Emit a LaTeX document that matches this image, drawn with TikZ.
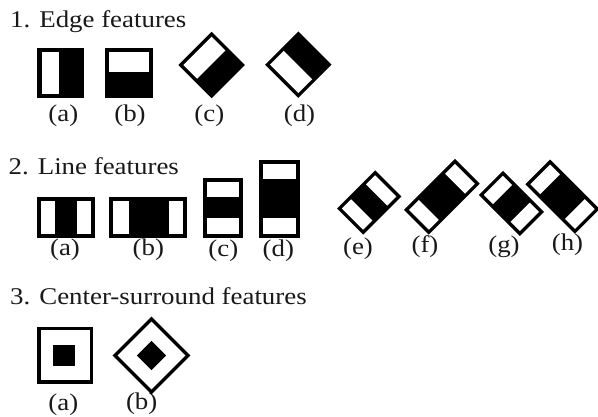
\documentclass[tikz,border=0pt]{standalone}
\usepackage{fontspec}
\setmainfont{Liberation Serif}
\newcommand\linefeat[6]{% center x, center y, angle, length, height, white width
  \begin{scope}[shift={(#1,#2)}, rotate=#3]
    \fill[black] (-#4/2,-#5/2) rectangle (#4/2,#5/2);
    \fill[white] (-#4/2+3.5,-#5/2+3.5) rectangle (-#4/2+3.5+#6,#5/2-3.5);
    \fill[white] (#4/2-3.5-#6,-#5/2+3.5) rectangle (#4/2-3.5,#5/2-3.5);
  \end{scope}}
\begin{document}
\begin{tikzpicture}[x=1pt,y=-1pt,
  lbl/.style={inner sep=0pt, text=black!90, font=\fontsize{24}{28}\selectfont, xscale=1.12},
  ttl/.style={inner sep=0pt, anchor=base west, text=black!90, font=\fontsize{24}{28}\selectfont, xscale=1.12}]
\useasboundingbox[fill=white] (0,0) rectangle (598,417);

% ---- titles
\node[ttl] (t1) at (10,28) {1. Edge features};
\node[ttl] (t2) at (8.5,175) {2. Line features};
\node[ttl] (t3) at (10,305) {3. Center-surround features};

% ---- 1. Edge features
\fill[black] (37.3,47.7) rectangle (84.3,97.7);
\fill[white] (41.7,51.7) rectangle (59.3,93.7);
\fill[black] (105.3,47.7) rectangle (153.3,97.7);
\fill[white] (109.3,51.7) rectangle (149.3,71.7);
\begin{scope}[shift={(211.7,65)}, rotate=-45]
  \fill[black] (-23.5,-23.5) rectangle (23.5,23.5);
  \fill[white] (-20,-20) rectangle (-0.5,20);
\end{scope}
\begin{scope}[shift={(298.3,64.7)}, rotate=45]
  \fill[black] (-23.5,-23.5) rectangle (23.5,23.5);
  \fill[white] (-20,-20) rectangle (-0.5,20);
\end{scope}
\node[lbl] (e1a) at (63.3,116) {(a)};
\node[lbl] (e1b) at (130,116) {(b)};
\node[lbl] (e1c) at (209.3,116) {(c)};
\node[lbl] (e1d) at (299.5,116) {(d)};

% ---- 2. Line features
\fill[black] (36.7,196.7) rectangle (95,238.3);
\fill[white] (40.7,200.7) rectangle (55,234.3);
\fill[white] (77.3,200.7) rectangle (91,234.3);
\fill[black] (109.3,196.7) rectangle (186.7,238.3);
\fill[white] (113.3,200.7) rectangle (129.3,234.3);
\fill[white] (169,200.7) rectangle (182.7,234.3);
\fill[black] (203.3,178.3) rectangle (243.3,238.3);
\fill[white] (207.3,182.3) rectangle (239.3,196.7);
\fill[white] (207.3,217.7) rectangle (239.3,234.3);
\fill[black] (259.3,160) rectangle (300,238.3);
\fill[white] (263.3,164.3) rectangle (296,179);
\fill[white] (263.3,217.7) rectangle (296,234.3);
\linefeat{369.2}{202.5}{45}{54}{37}{13}
\linefeat{441.9}{196.8}{45}{72}{35}{14}
\linefeat{511.4}{203.4}{-45}{58}{34}{13}
\linefeat{562.5}{196.7}{-45}{70}{35}{14}
\node[lbl] (l2a) at (65,250) {(a)};
\node[lbl] (l2b) at (148.3,250) {(b)};
\node[lbl] (l2c) at (223.3,251) {(c)};
\node[lbl] (l2d) at (278.3,251) {(d)};
\node[lbl] (l2e) at (358,249) {(e)};
\node[lbl] (l2f) at (425,246.5) {(f)};
\node[lbl] (l2g) at (504,247) {(g)};
\node[lbl] (l2h) at (567.5,245) {(h)};

% ---- 3. Center-surround features
\node[lbl] (c3a) at (63.3,405) {(a)};
\node[lbl] (c3b) at (141.7,404) {(b)};
\fill[black] (36.7,326.7) rectangle (93.3,384);
\fill[white] (40.5,330.5) rectangle (89.5,380.2);
\fill[black] (53.3,345) rectangle (75,366);
\begin{scope}[shift={(151.5,355.5)}, rotate=45]
  \fill[black] (-27.5,-27.5) rectangle (27.5,27.5);
  \fill[white] (-24,-24) rectangle (24,24);
  \fill[black] (-10.3,-10.3) rectangle (10.3,10.3);
\end{scope}
\end{tikzpicture}
\end{document}
